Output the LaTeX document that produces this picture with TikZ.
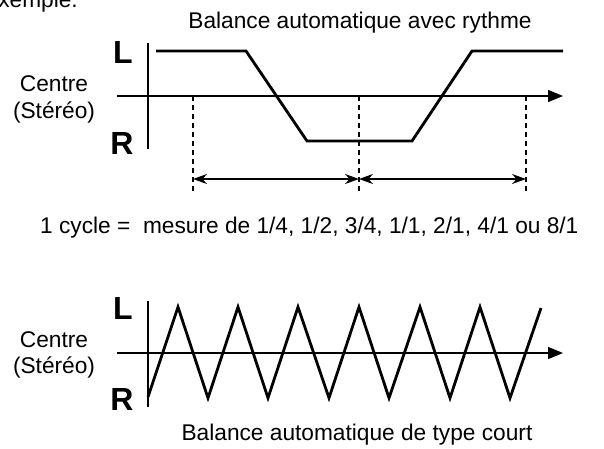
\documentclass[tikz,border=0pt]{standalone}
\usepackage{fontspec}
\setmainfont{Liberation Sans}
\usetikzlibrary{arrows.meta}
\begin{document}
\begin{tikzpicture}[x=1pt,y=-1pt,
  lbl/.style={inner sep=0pt, font=\fontsize{22.7}{26}\selectfont},
  big/.style={inner sep=0pt, font=\fontsize{32}{36}\selectfont\bfseries},
  axis/.style={line width=1.3pt},
  axisarrow/.style={line width=1.3pt, -{Triangle[length=15pt,width=12pt]}},
  wave/.style={line width=2.8pt, line join=miter},
  guide/.style={line width=1.2pt, dash pattern=on 5pt off 4pt},
  dim/.style={line width=1.2pt, {Stealth[length=14pt,width=10pt]}-{Stealth[length=14pt,width=10pt]}}
  ]
\useasboundingbox (0,0) rectangle (604,448);
% partial heading at top
\node[lbl, anchor=base east] (ex) at (78,7) {exemple.};
% ---------- top diagram ----------
\node[lbl, anchor=base] (t1) at (360,28) {Balance automatique avec rythme};
\node[big, anchor=base] (L1) at (123,63) {L};
\node[big, anchor=base] (R1) at (122,154) {R};
\node[lbl, anchor=base] (c1) at (54,91) {Centre};
\node[lbl, anchor=base] (s1) at (54,118) {(Stéréo)};
\coordinate (v1t) at (148,43);
\coordinate (v1b) at (148,149);
\coordinate (h1l) at (117,96);
\coordinate (h1r) at (563,96);
\draw[axis] (v1t) -- (v1b);
\draw[axisarrow] (h1l) -- (h1r);
\coordinate (w0) at (156,51);
\coordinate (w1) at (246,51);
\coordinate (w2) at (307,141);
\coordinate (w3) at (412,141);
\coordinate (w4) at (472,51);
\coordinate (w5) at (563,51);
\draw[wave] (w0) -- (w1) -- (w2) -- (w3) -- (w4) -- (w5);
\coordinate (d1t) at (193,96);  \coordinate (d1b) at (193,194);
\coordinate (d2t) at (359,96);  \coordinate (d2b) at (359,194);
\coordinate (d3t) at (526,96);  \coordinate (d3b) at (526,194);
\draw[guide] (d1t) -- (d1b);
\draw[guide] (d2t) -- (d2b);
\draw[guide] (d3t) -- (d3b);
\coordinate (a1) at (193,179);
\coordinate (a2) at (359,179);
\coordinate (a3) at (526,179);
\draw[dim] (a1) -- (a2);
\draw[dim] (a2) -- (a3);
\node[lbl, anchor=base west] (cyc) at (40,233) {1 cycle =\ \ mesure de 1/4, 1/2, 3/4, 1/1, 2/1, 4/1 ou 8/1};
% ---------- bottom diagram ----------
\node[big, anchor=base] (L2) at (123,319) {L};
\node[big, anchor=base] (R2) at (122,410) {R};
\node[lbl, anchor=base] (c2) at (54,347) {Centre};
\node[lbl, anchor=base] (s2) at (54,373) {(Stéréo)};
\coordinate (v2t) at (148,301);
\coordinate (v2b) at (148,407);
\coordinate (h2l) at (117,353);
\coordinate (h2r) at (563,353);
\draw[axis] (v2t) -- (v2b);
\draw[axisarrow] (h2l) -- (h2r);
\draw[wave] (148,397) -- (178,307) -- (208,398) -- (238,307) -- (268,398)
  -- (298,307) -- (329,398) -- (359,307) -- (389,398) -- (420,307)
  -- (450,398) -- (480,307) -- (510,398) -- (541,308);
\node[lbl, anchor=base] (t2) at (357,440) {Balance automatique de type court};
\end{tikzpicture}
\end{document}
